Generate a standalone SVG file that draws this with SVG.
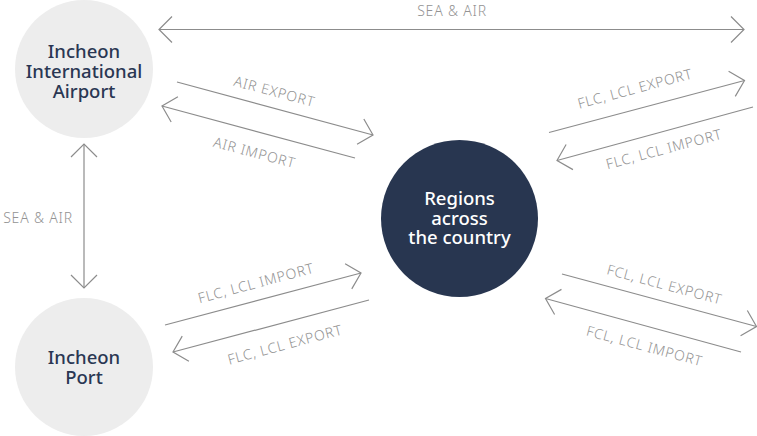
<svg xmlns="http://www.w3.org/2000/svg" width="757" height="436" viewBox="0 0 757 436">
<style>
.node-light{fill:#ededed}
.node-dark{fill:#283650}
.nt{font-family:"Noto Sans","Liberation Sans",sans-serif;font-size:18.5px;font-weight:500;text-anchor:middle}
.nt-dark{fill:#2a3753}
.nt-light{fill:#ffffff}
.conn{stroke:#8c8c8c;stroke-width:1.2;fill:none}
.lbl{font-family:"Noto Sans","Liberation Sans",sans-serif;font-size:14px;font-weight:300;fill:#939393;text-anchor:middle;letter-spacing:0.8px}
</style>
<defs>
<marker id="ah" markerUnits="userSpaceOnUse" markerWidth="30" markerHeight="30" refX="0" refY="0" viewBox="-15 -15 30 30" orient="auto-start-reverse" overflow="visible">
<path d="M -13 -13 L 0 0 L -13 13" fill="none" stroke="#8c8c8c" stroke-width="1.2"/>
</marker>
</defs>
<g id="connectors">
<line class="conn" x1="159" y1="29.5" x2="744" y2="29.5" marker-start="url(#ah)" marker-end="url(#ah)"/>
<line class="conn" x1="84" y1="144" x2="84" y2="288" marker-start="url(#ah)" marker-end="url(#ah)"/>
<line class="conn" x1="177" y1="82" x2="373" y2="135" marker-end="url(#ah)"/>
<line class="conn" x1="355" y1="158" x2="162" y2="106" marker-end="url(#ah)"/>
<line class="conn" x1="549" y1="132.5" x2="744.5" y2="80.5" marker-end="url(#ah)"/>
<line class="conn" x1="753" y1="107" x2="557" y2="160.5" marker-end="url(#ah)"/>
<line class="conn" x1="165" y1="325" x2="361" y2="273" marker-end="url(#ah)"/>
<line class="conn" x1="369" y1="300" x2="173" y2="352" marker-end="url(#ah)"/>
<line class="conn" x1="562" y1="274" x2="756.5" y2="326.5" marker-end="url(#ah)"/>
<line class="conn" x1="741" y1="352" x2="545.5" y2="298.5" marker-end="url(#ah)"/>
<text class="lbl" x="452" y="16">SEA &amp; AIR</text>
<text class="lbl" x="38" y="223">SEA &amp; AIR</text>
<text class="lbl" transform="translate(274.5,91.5) rotate(15)" y="5">AIR EXPORT</text>
<text class="lbl" transform="translate(254.5,152.5) rotate(15)" y="5">AIR IMPORT</text>
<text class="lbl" transform="translate(635,88.5) rotate(-15)" y="5">FLC, LCL EXPORT</text>
<text class="lbl" transform="translate(664,149) rotate(-15)" y="5">FLC, LCL IMPORT</text>
<text class="lbl" transform="translate(256,283) rotate(-15)" y="5">FLC, LCL IMPORT</text>
<text class="lbl" transform="translate(285,344.5) rotate(-15)" y="5">FLC, LCL EXPORT</text>
<text class="lbl" transform="translate(664.5,284.5) rotate(15)" y="5">FCL, LCL EXPORT</text>
<text class="lbl" transform="translate(644.5,346) rotate(15)" y="5">FCL, LCL IMPORT</text>
</g>
<g id="airport">
<circle class="node-light" cx="84" cy="69" r="69"/>
<text class="nt nt-dark" x="84" y="57.5">Incheon</text>
<text class="nt nt-dark" x="84" y="78">International</text>
<text class="nt nt-dark" x="84" y="98">Airport</text>
</g>
<g id="port">
<circle class="node-light" cx="84" cy="367" r="69"/>
<text class="nt nt-dark" x="84" y="364">Incheon</text>
<text class="nt nt-dark" x="84" y="384">Port</text>
</g>
<g id="regions">
<circle class="node-dark" cx="459.5" cy="218.5" r="78.5"/>
<text class="nt nt-light" x="459.5" y="205">Regions</text>
<text class="nt nt-light" x="459.5" y="224.5">across</text>
<text class="nt nt-light" x="459.5" y="244">the country</text>
</g>
</svg>
